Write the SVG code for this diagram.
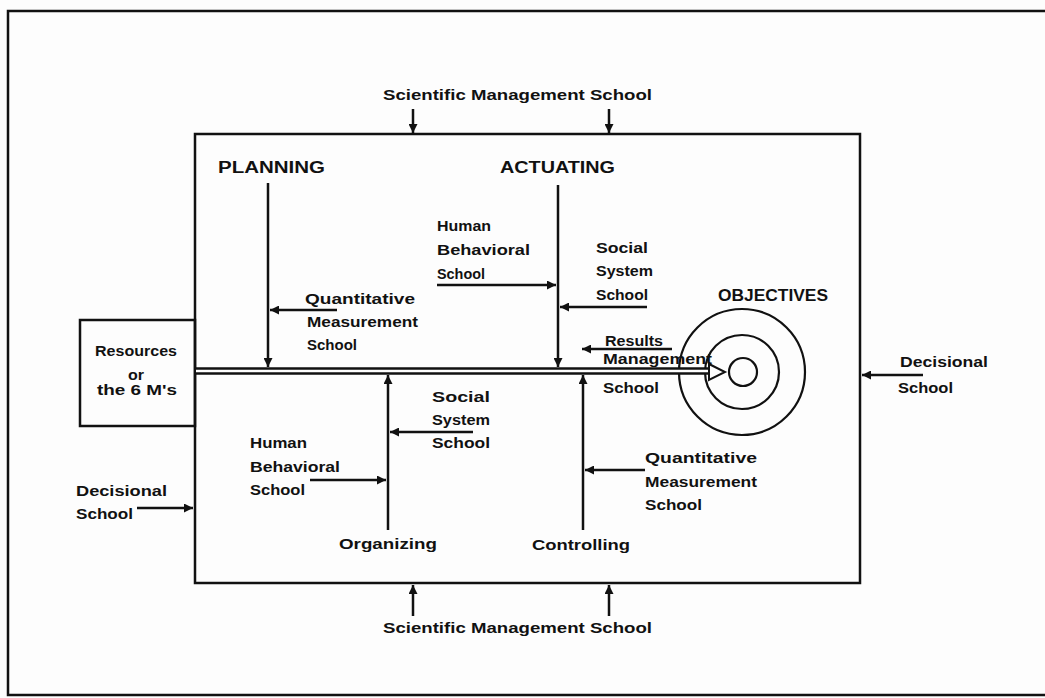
<svg xmlns="http://www.w3.org/2000/svg" width="1045" height="698" viewBox="0 0 1045 698">
<style>
.lbl{font-family:"Liberation Sans",Arial,sans-serif;font-weight:bold;font-size:15px;fill:#111}
.hd{font-size:16px}
.ln{stroke:#111;stroke-width:2.5;fill:none}
.arr{stroke:#111;stroke-width:2.5;fill:none;marker-end:url(#ah)}
.ring{stroke:#111;stroke-width:2.2;fill:none}
</style>
<defs>
<marker id="ah" viewBox="0 0 10 10" refX="10" refY="5" markerUnits="userSpaceOnUse" markerWidth="11" markerHeight="9" orient="auto">
<path d="M0,0 L10,5 L0,10 z" fill="#111"/>
</marker>
</defs>
<rect width="1045" height="698" fill="#fdfdfd"/>

<g id="frame">
<path class="ln" d="M1045 11 H8 V695 H1045" stroke-width="3"/>
</g>

<g id="main-box">
<rect x="195" y="134" width="665" height="449" class="ln" stroke-width="2.8"/>
</g>

<g id="sms-top"><text class="lbl" x="383" y="100" textLength="269" lengthAdjust="spacingAndGlyphs">Scientific Management School</text></g>
<g id="sms-bottom"><text class="lbl" x="383" y="633" textLength="269" lengthAdjust="spacingAndGlyphs">Scientific Management School</text></g>

<g id="planning"><text class="lbl hd" x="218" y="173" textLength="107" lengthAdjust="spacingAndGlyphs">PLANNING</text></g>
<g id="actuating"><text class="lbl hd" x="500" y="173" textLength="115" lengthAdjust="spacingAndGlyphs">ACTUATING</text></g>
<g id="organizing"><text class="lbl" x="339" y="549" textLength="98" lengthAdjust="spacingAndGlyphs">Organizing</text></g>
<g id="controlling"><text class="lbl" x="532" y="550" textLength="98" lengthAdjust="spacingAndGlyphs">Controlling</text></g>

<g id="objectives">
<text class="lbl hd" x="718" y="301" textLength="110" lengthAdjust="spacingAndGlyphs">OBJECTIVES</text>
<circle class="ring" cx="742" cy="372" r="63"/>
<circle class="ring" cx="742" cy="372" r="37"/>
<circle class="ring" cx="743" cy="372" r="14"/>
</g>

<g id="resources">
<rect x="80" y="320" width="115" height="106" class="ln"/>
<text class="lbl" x="95" y="356" textLength="82" lengthAdjust="spacingAndGlyphs" font-size="14">Resources</text>
<text class="lbl" x="128" y="380" textLength="16" lengthAdjust="spacingAndGlyphs" font-size="14">or</text>
<text class="lbl" x="97" y="395" textLength="80" lengthAdjust="spacingAndGlyphs" font-size="14">the 6 M's</text>
</g>

<g id="human-behavioral-actuating">
<text class="lbl" x="437" y="231" textLength="54" lengthAdjust="spacingAndGlyphs">Human</text>
<text class="lbl" x="437" y="255" textLength="93" lengthAdjust="spacingAndGlyphs">Behavioral</text>
<text class="lbl" x="437" y="279" textLength="48" lengthAdjust="spacingAndGlyphs">School</text>
</g>
<g id="social-system-actuating">
<text class="lbl" x="596" y="253" textLength="52" lengthAdjust="spacingAndGlyphs">Social</text>
<text class="lbl" x="596" y="276" textLength="57" lengthAdjust="spacingAndGlyphs">System</text>
<text class="lbl" x="596" y="300" textLength="52" lengthAdjust="spacingAndGlyphs">School</text>
</g>
<g id="quantitative-planning">
<text class="lbl" x="305" y="304" textLength="110" lengthAdjust="spacingAndGlyphs">Quantitative</text>
<text class="lbl" x="307" y="327" textLength="111" lengthAdjust="spacingAndGlyphs">Measurement</text>
<text class="lbl" x="307" y="350" textLength="50" lengthAdjust="spacingAndGlyphs">School</text>
</g>
<g id="results-management">
<text class="lbl" x="605" y="346" textLength="58" lengthAdjust="spacingAndGlyphs">Results</text>
<text class="lbl" x="603" y="364" textLength="109" lengthAdjust="spacingAndGlyphs">Management</text>
<text class="lbl" x="603" y="393" textLength="56" lengthAdjust="spacingAndGlyphs">School</text>
</g>
<g id="decisional-right">
<text class="lbl" x="900" y="367" textLength="88" lengthAdjust="spacingAndGlyphs">Decisional</text>
<text class="lbl" x="898" y="393" textLength="55" lengthAdjust="spacingAndGlyphs">School</text>
</g>
<g id="social-system-organizing">
<text class="lbl" x="432" y="402" textLength="58" lengthAdjust="spacingAndGlyphs">Social</text>
<text class="lbl" x="432" y="425" textLength="58" lengthAdjust="spacingAndGlyphs">System</text>
<text class="lbl" x="432" y="448" textLength="58" lengthAdjust="spacingAndGlyphs">School</text>
</g>
<g id="human-behavioral-organizing">
<text class="lbl" x="250" y="448" textLength="57" lengthAdjust="spacingAndGlyphs">Human</text>
<text class="lbl" x="250" y="472" textLength="90" lengthAdjust="spacingAndGlyphs">Behavioral</text>
<text class="lbl" x="250" y="495" textLength="55" lengthAdjust="spacingAndGlyphs">School</text>
</g>
<g id="quantitative-controlling">
<text class="lbl" x="645" y="463" textLength="112" lengthAdjust="spacingAndGlyphs">Quantitative</text>
<text class="lbl" x="645" y="487" textLength="112" lengthAdjust="spacingAndGlyphs">Measurement</text>
<text class="lbl" x="645" y="510" textLength="57" lengthAdjust="spacingAndGlyphs">School</text>
</g>
<g id="decisional-left">
<text class="lbl" x="76" y="496" textLength="91" lengthAdjust="spacingAndGlyphs">Decisional</text>
<text class="lbl" x="76" y="519" textLength="57" lengthAdjust="spacingAndGlyphs">School</text>
</g>

<g id="connectors">
<line class="arr" x1="413" y1="109" x2="413" y2="133"/>
<line class="arr" x1="609" y1="109" x2="609" y2="133"/>
<line class="arr" x1="413" y1="616" x2="413" y2="585"/>
<line class="arr" x1="609" y1="616" x2="609" y2="585"/>
<line class="arr" x1="268" y1="183" x2="268" y2="367"/>
<line class="arr" x1="558" y1="185" x2="558" y2="367"/>
<line class="arr" x1="388" y1="530" x2="388" y2="375"/>
<line class="arr" x1="583" y1="530" x2="583" y2="375"/>
<line class="arr" x1="437" y1="285" x2="556" y2="285"/>
<line class="arr" x1="647" y1="307" x2="560" y2="307"/>
<line class="arr" x1="337" y1="310" x2="270" y2="310"/>
<line class="arr" x1="672" y1="349" x2="582" y2="349"/>
<line class="arr" x1="923" y1="375" x2="862" y2="375"/>
<line class="arr" x1="473" y1="432" x2="390" y2="432"/>
<line class="arr" x1="310" y1="480" x2="386" y2="480"/>
<line class="arr" x1="645" y1="470" x2="585" y2="470"/>
<line class="arr" x1="137" y1="508" x2="193" y2="508"/>
<line x1="195" y1="371" x2="712" y2="371" stroke="#111" stroke-width="7.5"/>
<line x1="196" y1="371" x2="716" y2="371" stroke="#fdfdfd" stroke-width="2.5"/>
<path d="M709 364 L725 372 L709 380 Z" fill="#fdfdfd" stroke="#111" stroke-width="2"/>
</g>
</svg>
